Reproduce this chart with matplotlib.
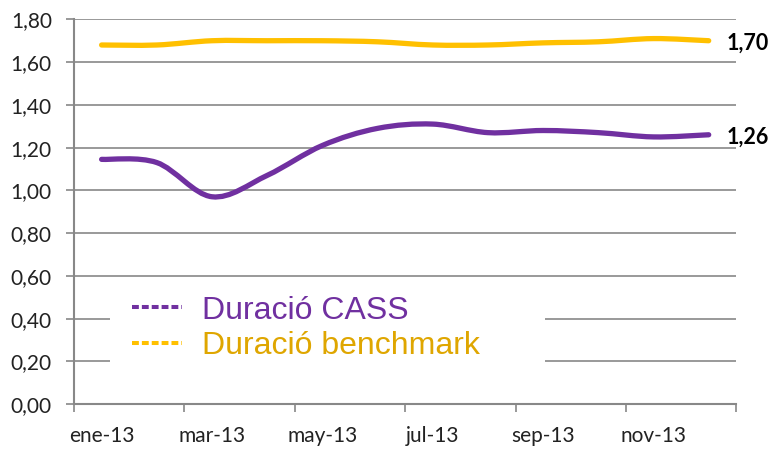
import matplotlib.pyplot as plt
from matplotlib.path import Path
from matplotlib.patches import PathPatch, Rectangle
from matplotlib.lines import Line2D

# data
months = ['ene-13', 'feb-13', 'mar-13', 'abr-13', 'may-13', 'jun-13',
          'jul-13', 'ago-13', 'sep-13', 'oct-13', 'nov-13', 'dic-13']
cass = [1.145, 1.13, 0.97, 1.07, 1.21, 1.29, 1.31, 1.27, 1.28, 1.27, 1.25, 1.26]
benchmark = [1.68, 1.68, 1.70, 1.70, 1.70, 1.695, 1.68, 1.68, 1.69, 1.695, 1.71, 1.70]

purple = '#7030A0'
gold = '#FFC000'
gold_text = '#DFA600'
grid_col = '#888888'


def smooth_path(xs, ys):
    # Excel-like smoothed line: cubic Bezier segments through the points
    pts = list(zip(xs, ys))
    verts = [pts[0]]
    codes = [Path.MOVETO]
    n = len(pts)
    for i in range(n - 1):
        p0 = pts[i - 1] if i > 0 else pts[i]
        p1 = pts[i]
        p2 = pts[i + 1]
        p3 = pts[i + 2] if i + 2 < n else pts[i + 1]
        c1 = (p1[0] + (p2[0] - p0[0]) / 6, p1[1] + (p2[1] - p0[1]) / 6)
        c2 = (p2[0] - (p3[0] - p1[0]) / 6, p2[1] - (p3[1] - p1[1]) / 6)
        verts += [c1, c2, p2]
        codes += [Path.CURVE4] * 3
    return Path(verts, codes)


fig = plt.figure(figsize=(7.71, 4.5), dpi=100)
ax = fig.add_axes([0.096, 0.102, 0.859, 0.855])

x = list(range(len(months)))
for vals, col in [(benchmark, gold), (cass, purple)]:
    ax.add_patch(PathPatch(smooth_path(x, vals), facecolor='none', edgecolor=col,
                           lw=3.8, capstyle='round', joinstyle='round', zorder=3))

ax.set_xlim(-0.5, 11.5)
ax.set_ylim(0, 1.8)
ax.set_yticks([i * 0.2 for i in range(10)])
ax.set_yticklabels([f'{i * 0.2:.2f}'.replace('.', ',') for i in range(10)],
                   family='Lato', fontsize=15, color='#222222')
ax.yaxis.grid(True, color=grid_col, lw=1.2)
ax.set_axisbelow(True)

ax.set_xticks([i - 0.5 for i in range(0, 13, 2)])
ax.set_xticklabels([])
ax.set_xticks(x[::2], minor=True)
ax.set_xticklabels(months[::2], minor=True, family='Lato', fontsize=15, color='#222222')
ax.tick_params(axis='x', which='minor', length=0, pad=16)
ax.tick_params(axis='both', which='major', length=6, width=1.2, color=grid_col)
ax.tick_params(axis='y', which='major', pad=10)

for s in ['top', 'right']:
    ax.spines[s].set_visible(False)
for s in ['left', 'bottom']:
    ax.spines[s].set_color(grid_col)
    ax.spines[s].set_linewidth(1.5)

# end labels
for vals, lbl in [(benchmark, '1,70'), (cass, '1,26')]:
    ax.annotate(lbl, (11.32, vals[-1]), xytext=(0, -2), textcoords='offset points',
                fontsize=15.5, fontweight='bold', family='Lato', va='center', ha='left')

# white legend box (wider than its text, as in the original)
ax.add_patch(Rectangle((0.054, 0.096), 0.657, 0.22, transform=ax.transAxes,
                       facecolor='white', edgecolor='none', zorder=2))

handles = [Line2D([], [], color=purple, lw=2.9, ls=(0, (1.7, 0.75))),
           Line2D([], [], color=gold, lw=2.9, ls=(0, (1.7, 0.75)))]
leg = ax.legend(handles, ['Duració CASS', 'Duració benchmark'],
                loc='lower left', bbox_to_anchor=(0.0876, 0.112),
                prop={'family': 'Liberation Sans', 'size': 23},
                frameon=False, handlelength=1.56, handletextpad=0.63,
                labelspacing=0.17, borderpad=0, borderaxespad=0)
for t, c in zip(leg.get_texts(), [purple, gold_text]):
    t.set_color(c)
leg.set_zorder(4)

fig.savefig('out.png', dpi=100)
